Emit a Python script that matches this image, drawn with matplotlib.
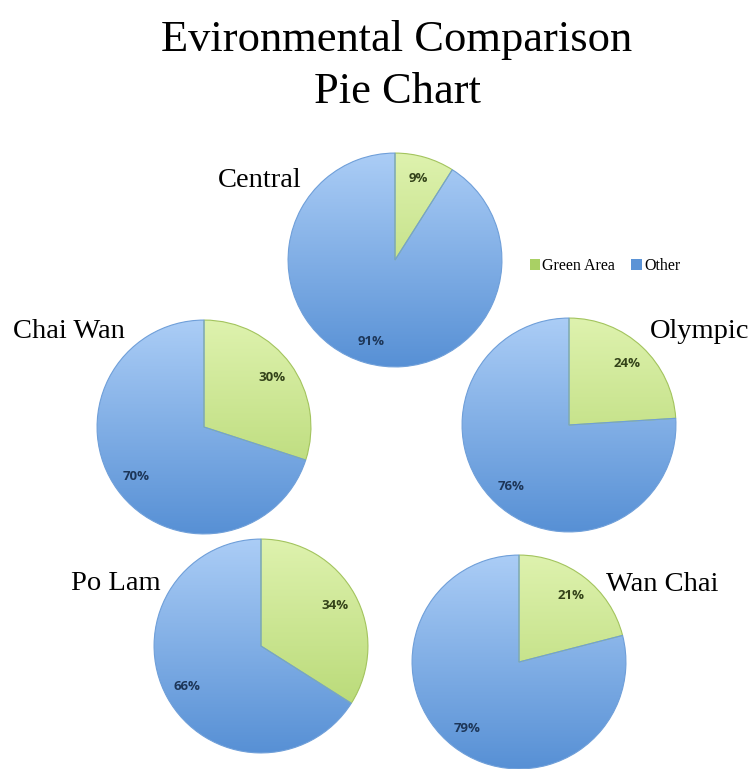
import numpy as np
import matplotlib
matplotlib.use("Agg")
import matplotlib.pyplot as plt
from matplotlib.colors import LinearSegmentedColormap
from matplotlib.patches import Patch

W, H = 751, 769

# district shares of green area vs everything else (percent)
districts = ["Central", "Chai Wan", "Olympic", "Po Lam", "Wan Chai"]
green_area = [9, 30, 24, 34, 21]
other = [91, 70, 76, 66, 79]
series_names = ["Green Area", "Other"]

# pie centres in pixels (x, y from top) and radius
centres = [(395, 260), (204, 427), (569, 425), (261, 646), (519, 662)]
radius = 108
# district name anchors (centre x, baseline y)
name_pos = [(260, 187), (69, 338), (700, 338), (116, 590), (662, 591)]

green_cmap = LinearSegmentedColormap.from_list("g", ["#b0d46a", "#def2ae"])
blue_cmap = LinearSegmentedColormap.from_list("b", ["#5790d5", "#abcdf6"])
edge_cols = ["#a3c45e", "#6f9fd9"]
text_cols = ["#34431a", "#1d3658"]

fig = plt.figure(figsize=(W / 100, H / 100), dpi=100)
serif = "Liberation Serif"

fig.text(397 / W, 1 - 51 / H, "Evironmental Comparison", ha="center", va="baseline",
         fontsize=32, family=serif)
fig.text(397 / W, 1 - 103 / H, "Pie Chart", ha="center", va="baseline",
         fontsize=32, family=serif)

grad = np.linspace(0, 1, 256).reshape(-1, 1)

for name, g, o, (cx, cy), (nx, ny) in zip(districts, green_area, other, centres, name_pos):
    ax = fig.add_axes([(cx - radius) / W, 1 - (cy + radius) / H, 2 * radius / W, 2 * radius / H])
    wedges, texts, autotexts = ax.pie(
        [g, o], startangle=90, counterclock=False, radius=1,
        autopct="%d%%", pctdistance=0.79,
        wedgeprops=dict(linewidth=0.8),
        textprops=dict(family="Open Sans", fontsize=9.5, fontweight="bold"))
    for w, cmap, ec, tc, t in zip(wedges, [green_cmap, blue_cmap], edge_cols, text_cols, autotexts):
        im = ax.imshow(grad, extent=(-1, 1, -1, 1), origin="lower", cmap=cmap,
                       aspect="auto", zorder=1)
        im.set_clip_path(w)
        w.set_facecolor("none")
        w.set_edgecolor(ec)
        w.set_zorder(2)
        t.set_color(tc)
        t.set_zorder(3)
    ax.set_xlim(-1.01, 1.01)
    ax.set_ylim(-1.01, 1.01)
    ax.axis("off")
    fig.text(nx / W, 1 - ny / H, name, ha="center", va="baseline", fontsize=20.5, family=serif)

handles = [Patch(facecolor="#a9d064", edgecolor="none"), Patch(facecolor="#5b93d6", edgecolor="none")]
fig.legend(handles, series_names, loc="center", bbox_to_anchor=(605 / W, 1 - 266 / H),
           ncol=2, frameon=False, handlelength=0.65, handleheight=0.65, handletextpad=0.15,
           columnspacing=1.0, prop=dict(family=serif, size=11.5))

fig.savefig("out.png", dpi=100)
